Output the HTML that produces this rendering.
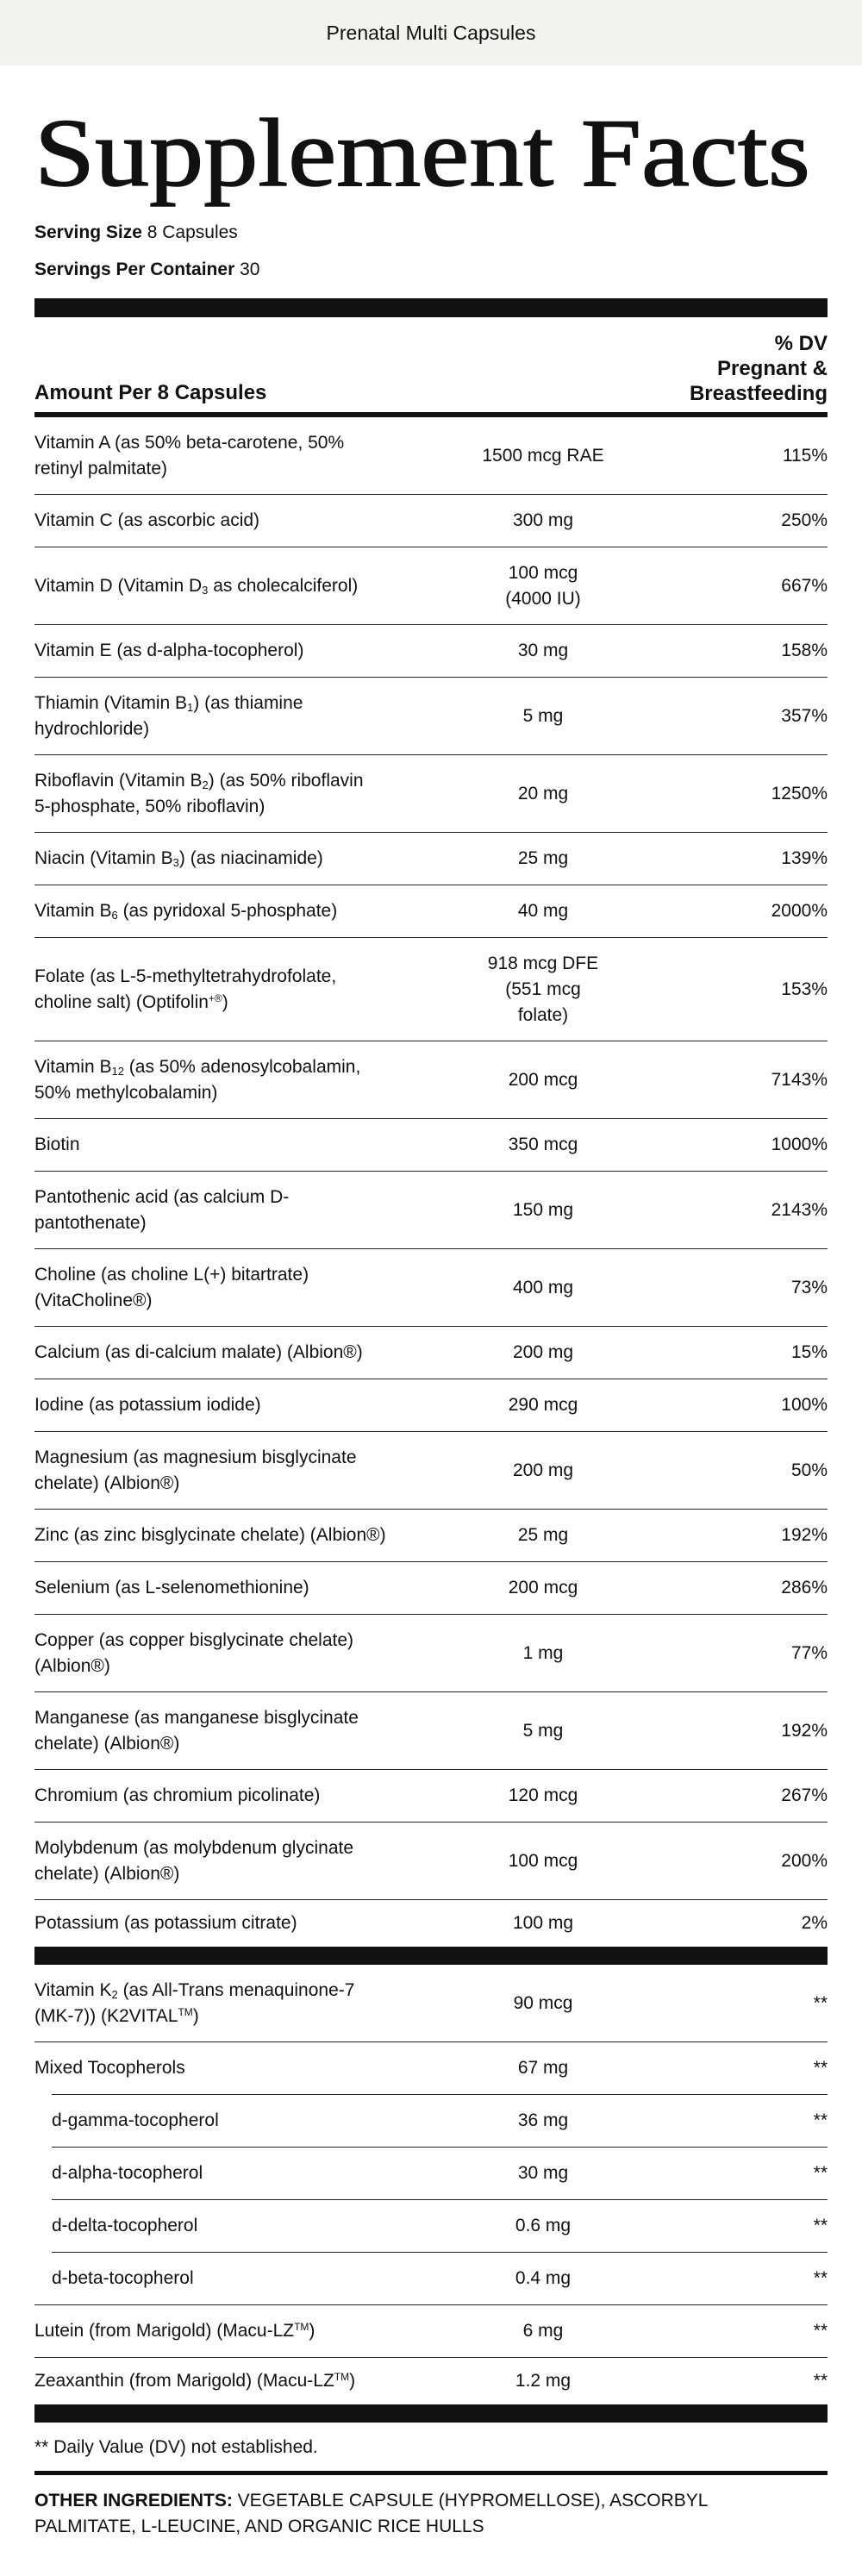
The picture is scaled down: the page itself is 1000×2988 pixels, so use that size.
<!DOCTYPE html>
<html><head><meta charset="utf-8"><style>
*{margin:0;padding:0;box-sizing:border-box}
body{width:1000px;height:2988px;background:#fff;font-family:"Liberation Sans",sans-serif;color:#111;position:relative;overflow:hidden}
.top{height:76px;background:#f3f3f1;text-align:center;font-size:23px;line-height:76px;font-weight:500}
.abs{position:absolute}
.row{position:absolute;left:40px;width:920px;display:flex;align-items:center;font-size:21px;line-height:30px;border-top:1.5px solid #222}
.row .n{width:415px}
.row .a{position:absolute;left:500px;width:180px;text-align:center}
.row .d{position:absolute;right:0;text-align:right}
.ind{left:60px;width:900px}
.ind .a{left:480px}
sub{font-size:13px;vertical-align:-3px;line-height:0}
sup{font-size:12px;vertical-align:7px;line-height:0}
.bar{position:absolute;left:40px;width:920px;background:#111}
</style></head><body>
<div class="top">Prenatal Multi Capsules</div>
<svg class="abs" style="left:0;top:100px" width="1000" height="140"><text x="40" y="115" textLength="900" lengthAdjust="spacingAndGlyphs" font-family="Liberation Serif, serif" font-size="112" fill="#111" stroke="#111" stroke-width="1.5">Supplement Facts</text></svg>
<div class="abs" style="left:40px;top:258px;font-size:21px"><b style="font-weight:600">Serving Size</b> 8 Capsules</div>
<div class="abs" style="left:40px;top:301px;font-size:21px"><b style="font-weight:600">Servings Per Container</b> 30</div>
<div class="bar" style="top:346px;height:22px"></div>
<div class="abs" style="right:40px;top:384px;font-size:24px;line-height:29px;text-align:right;font-weight:600">% DV<br>Pregnant &amp;<br>Breastfeeding</div>
<div class="abs" style="left:40px;top:442px;font-size:24px;font-weight:600">Amount Per 8 Capsules</div>
<div class="bar" style="top:478px;height:6px"></div>

<div class="row" style="top:484px;height:89px;border-top:none"><div class="n">Vitamin A (as 50% beta-carotene, 50% retinyl palmitate)</div><div class="a">1500 mcg RAE</div><div class="d">115%</div></div>
<div class="row" style="top:573px;height:61px"><div class="n">Vitamin C (as ascorbic acid)</div><div class="a">300 mg</div><div class="d">250%</div></div>
<div class="row" style="top:634px;height:90px"><div class="n" style="width:480px">Vitamin D (Vitamin D<sub>3</sub> as cholecalciferol)</div><div class="a">100 mcg<br>(4000 IU)</div><div class="d">667%</div></div>
<div class="row" style="top:724px;height:61px"><div class="n">Vitamin E (as d-alpha-tocopherol)</div><div class="a">30 mg</div><div class="d">158%</div></div>
<div class="row" style="top:785px;height:90px"><div class="n" style="width:390px">Thiamin (Vitamin B<sub>1</sub>) (as thiamine hydrochloride)</div><div class="a">5 mg</div><div class="d">357%</div></div>
<div class="row" style="top:875px;height:90px"><div class="n" style="width:400px">Riboflavin (Vitamin B<sub>2</sub>) (as 50% riboflavin 5-phosphate, 50% riboflavin)</div><div class="a">20 mg</div><div class="d">1250%</div></div>
<div class="row" style="top:965px;height:61px"><div class="n">Niacin (Vitamin B<sub>3</sub>) (as niacinamide)</div><div class="a">25 mg</div><div class="d">139%</div></div>
<div class="row" style="top:1026px;height:61px"><div class="n">Vitamin B<sub>6</sub> (as pyridoxal 5-phosphate)</div><div class="a">40 mg</div><div class="d">2000%</div></div>
<div class="row" style="top:1087px;height:120px"><div class="n" style="width:400px">Folate (as L-5-methyltetrahydrofolate, choline salt) (Optifolin<sup>+®</sup>)</div><div class="a" style="left:525px;width:130px">918 mcg DFE (551 mcg folate)</div><div class="d">153%</div></div>
<div class="row" style="top:1207px;height:90px"><div class="n">Vitamin B<sub>12</sub> (as 50% adenosylcobalamin, 50% methylcobalamin)</div><div class="a">200 mcg</div><div class="d">7143%</div></div>
<div class="row" style="top:1297px;height:61px"><div class="n">Biotin</div><div class="a">350 mcg</div><div class="d">1000%</div></div>
<div class="row" style="top:1358px;height:90px"><div class="n" style="width:400px">Pantothenic acid (as calcium D-pantothenate)</div><div class="a">150 mg</div><div class="d">2143%</div></div>
<div class="row" style="top:1448px;height:90px"><div class="n">Choline (as choline L(+) bitartrate) (VitaCholine®)</div><div class="a">400 mg</div><div class="d">73%</div></div>
<div class="row" style="top:1538px;height:61px"><div class="n">Calcium (as di-calcium malate) (Albion®)</div><div class="a">200 mg</div><div class="d">15%</div></div>
<div class="row" style="top:1599px;height:61px"><div class="n">Iodine (as potassium iodide)</div><div class="a">290 mcg</div><div class="d">100%</div></div>
<div class="row" style="top:1660px;height:90px"><div class="n">Magnesium (as magnesium bisglycinate chelate) (Albion®)</div><div class="a">200 mg</div><div class="d">50%</div></div>
<div class="row" style="top:1750px;height:61px"><div class="n" style="width:480px">Zinc (as zinc bisglycinate chelate) (Albion®)</div><div class="a">25 mg</div><div class="d">192%</div></div>
<div class="row" style="top:1811px;height:61px"><div class="n">Selenium (as L-selenomethionine)</div><div class="a">200 mcg</div><div class="d">286%</div></div>
<div class="row" style="top:1872px;height:90px"><div class="n">Copper (as copper bisglycinate chelate) (Albion®)</div><div class="a">1 mg</div><div class="d">77%</div></div>
<div class="row" style="top:1962px;height:90px"><div class="n">Manganese (as manganese bisglycinate chelate) (Albion®)</div><div class="a">5 mg</div><div class="d">192%</div></div>
<div class="row" style="top:2052px;height:61px"><div class="n">Chromium (as chromium picolinate)</div><div class="a">120 mcg</div><div class="d">267%</div></div>
<div class="row" style="top:2113px;height:90px"><div class="n">Molybdenum (as molybdenum glycinate chelate) (Albion®)</div><div class="a">100 mcg</div><div class="d">200%</div></div>
<div class="row" style="top:2203px;height:55px"><div class="n">Potassium (as potassium citrate)</div><div class="a">100 mg</div><div class="d">2%</div></div>
<div class="bar" style="top:2258px;height:21px"></div>
<div class="row" style="top:2279px;height:89px;border-top:none"><div class="n" style="width:400px">Vitamin K<sub>2</sub> (as All-Trans menaquinone-7 (MK-7)) (K2VITAL<sup>TM</sup>)</div><div class="a">90 mcg</div><div class="d">**</div></div>
<div class="row" style="top:2368px;height:61px"><div class="n">Mixed Tocopherols</div><div class="a">67 mg</div><div class="d">**</div></div>
<div class="row ind" style="top:2429px;height:61px"><div class="n">d-gamma-tocopherol</div><div class="a">36 mg</div><div class="d">**</div></div>
<div class="row ind" style="top:2490px;height:61px"><div class="n">d-alpha-tocopherol</div><div class="a">30 mg</div><div class="d">**</div></div>
<div class="row ind" style="top:2551px;height:61px"><div class="n">d-delta-tocopherol</div><div class="a">0.6 mg</div><div class="d">**</div></div>
<div class="row ind" style="top:2612px;height:61px"><div class="n">d-beta-tocopherol</div><div class="a">0.4 mg</div><div class="d">**</div></div>
<div class="row" style="top:2673px;height:61px"><div class="n" style="width:480px">Lutein (from Marigold) (Macu-LZ<sup>TM</sup>)</div><div class="a">6 mg</div><div class="d">**</div></div>
<div class="row" style="top:2734px;height:55px"><div class="n" style="width:480px">Zeaxanthin (from Marigold) (Macu-LZ<sup>TM</sup>)</div><div class="a">1.2 mg</div><div class="d">**</div></div>
<div class="bar" style="top:2789px;height:21px"></div>
<div class="abs" style="left:40px;top:2827px;font-size:21px">** Daily Value (DV) not established.</div>
<div class="bar" style="top:2866px;height:5px"></div>
<div class="abs" style="left:40px;top:2886px;width:900px;font-size:21px;line-height:30px"><b style="font-weight:600">OTHER INGREDIENTS:</b> VEGETABLE CAPSULE (HYPROMELLOSE), ASCORBYL PALMITATE, L-LEUCINE, AND ORGANIC RICE HULLS</div>
</body></html>
